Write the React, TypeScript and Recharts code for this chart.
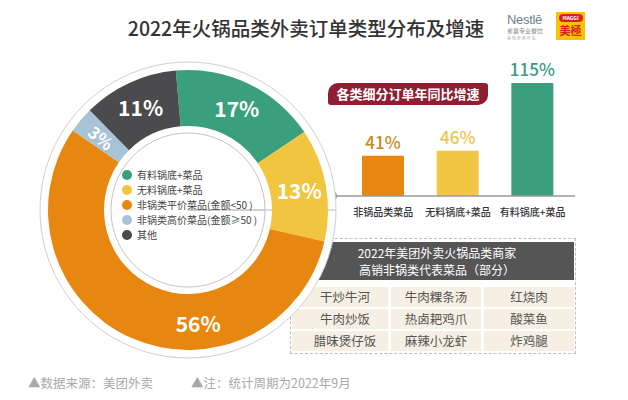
import React from 'react';
import { PieChart, Pie, Cell, BarChart, Bar, XAxis, YAxis, LabelList, Legend } from 'recharts';

const pieNames = ['有料锅底+菜品', '无料锅底+菜品', '非锅类平价菜品(金额<50 )', '非锅类高价菜品(金额≥50 )', '其他'];
const pieValues = [17, 13, 56, 3, 11];
const pieColors = ['#3a9f7c', '#f1c53f', '#e8870f', '#a8c3d6', '#4b4b4d'];

const barCategories = ['非锅品类菜品', '无料锅底+菜品', '有料锅底+菜品'];
const barValues = [41, 46, 115];
const barColors = ['#e8870f', '#f3c744', '#3a9f7c'];
const barLabelColors = ['#c98a1e', '#ebc650', '#3b9a7e'];

const dishRows = [
  ['干炒牛河', '牛肉粿条汤', '红烧肉'],
  ['牛肉炒饭', '热卤耙鸡爪', '酸菜鱼'],
  ['腊味煲仔饭', '麻辣小龙虾', '炸鸡腿'],
];

const titleText = '2022年火锅品类外卖订单类型分布及增速';
const bannerText = '各类细分订单年同比增速';
const tableHeader = ['2022年美团外卖火锅品类商家', '高销非锅类代表菜品（部分）'];
const footnotes = ['▲数据来源：美团外卖', '▲注：统计周期为2022年9月'];

const pieData = pieNames.map((name, i) => ({ name, value: pieValues[i] }));
const barData = barCategories.map((name, i) => ({ name, value: barValues[i] }));
const single = [{ name: 'bg', value: 1 }];

const FONT = '"Noto Sans CJK SC", "Noto Sans", sans-serif';
const RAD = Math.PI / 180;
// label angle adjustment for the largest slice (visual placement, not data)
const largestShift = 29;

const renderPieLabel = (props: any) => {
  const { cx, cy, midAngle, innerRadius, outerRadius, value, index } = props;
  const maxV = Math.max(...pieValues);
  const ang = pieValues[index] === maxV ? midAngle + largestShift : midAngle;
  const r = (innerRadius + outerRadius) / 2 + 1;
  const x = cx + r * Math.cos(-ang * RAD);
  const y = cy + r * Math.sin(-ang * RAD);
  const small = value < 5;
  return (
    <text
      x={x}
      y={y}
      fill="#fff"
      fontSize={small ? 17 : 21}
      fontWeight={600}
      fontFamily={FONT}
      textAnchor="middle"
      dominantBaseline="central"
      transform={small ? `rotate(${180 - ang} ${x} ${y})` : undefined}
    >
      {value}%
    </text>
  );
};

const PieLegend = () => (
  <div style={{ fontFamily: FONT, fontSize: 10, color: '#444' }}>
    {pieNames.map((n, i) => (
      <div key={n} style={{ display: 'flex', alignItems: 'center', height: 15, whiteSpace: 'nowrap' }}>
        <span
          style={{
            display: 'inline-block',
            width: 10,
            height: 10,
            borderRadius: 5,
            background: pieColors[i],
            marginRight: 5,
            flex: '0 0 10px',
          }}
        />
        <span>{n}</span>
      </div>
    ))}
  </div>
);

const BarTick = (props: any) => {
  const { x, y, payload } = props;
  return (
    <text x={x} y={y + 12} textAnchor="middle" fontSize={10} fill="#333" fontWeight={500} fontFamily={FONT}>
      {payload.value}
    </text>
  );
};

const BarLabel = (props: any) => {
  const { x, y, width, value, index } = props;
  return (
    <text
      x={x + width / 2}
      y={y - 7}
      textAnchor="middle"
      fontSize={17}
      fill={barLabelColors[index]}
      fontFamily={FONT}
      fontWeight={500}
    >
      {value}%
    </text>
  );
};

export default function App() {
  return (
    <div
      style={{
        position: 'fixed',
        left: 0,
        top: 0,
        width: 628,
        height: 400,
        background: '#fff',
        overflow: 'hidden',
        fontFamily: FONT,
      }}
    >
      {/* Title */}
      <div
        style={{
          position: 'absolute',
          left: 100,
          top: 14,
          width: 412,
          textAlign: 'center',
          fontSize: 19.5,
          fontWeight: 500,
          color: '#333',
          lineHeight: '28px',
          whiteSpace: 'nowrap',
        }}
      >
        {titleText}
      </div>

      {/* Logos */}
      <div style={{ position: 'absolute', left: 507, top: 13, width: 48, height: 28 }}>
        <div style={{ fontSize: 13, color: '#6f7f8f', fontFamily: 'Liberation Sans, sans-serif', lineHeight: '14px', letterSpacing: -0.3 }}>
          Nestlē
        </div>
        <div style={{ fontSize: 6, color: '#888', lineHeight: '8px', whiteSpace: 'nowrap' }}>雀巢专业餐饮</div>
        <div style={{ fontSize: 4, color: '#aaa', lineHeight: '6px', whiteSpace: 'nowrap' }}>美 味 营 养 可 靠</div>
      </div>
      <div
        style={{
          position: 'absolute',
          left: 556,
          top: 12,
          width: 29,
          height: 28,
          background: '#f6c400',
          textAlign: 'center',
        }}
      >
        <div
          style={{
            margin: '2px auto 0',
            width: 24,
            height: 8,
            borderRadius: 5,
            background: '#d8231f',
            color: '#fff',
            fontSize: 5,
            lineHeight: '8px',
            fontWeight: 700,
          }}
        >
          MAGGI
        </div>
        <div style={{ color: '#d8231f', fontSize: 11, fontWeight: 700, lineHeight: '16px' }}>美極</div>
      </div>

      {/* Banner */}
      <div
        style={{
          position: 'absolute',
          left: 328,
          top: 83,
          width: 160,
          height: 22,
          background: '#8e1f33',
          borderRadius: '10px 3px 10px 3px',
          color: '#fff',
          fontSize: 13,
          fontWeight: 700,
          lineHeight: '22px',
          textAlign: 'center',
          whiteSpace: 'nowrap',
        }}
      >
        {bannerText}
      </div>

      {/* Bar chart */}
      <div style={{ position: 'absolute', left: 300, top: 40 }}>
        <BarChart width={300} height={240} data={barData} margin={{ top: 38, right: 25, bottom: 54, left: 33 }}>
          <XAxis
            dataKey="name"
            padding={{ left: 13, right: 5 }}
            axisLine={{ stroke: '#9a9a9a', strokeWidth: 1.5 }}
            tickLine={false}
            tick={<BarTick />}
            interval={0}
            height={30}
          />
          <YAxis hide domain={[0, 120]} width={0} />
          <Bar dataKey="value" barSize={42} isAnimationActive={false}>
            {barData.map((d, i) => (
              <Cell key={d.name} fill={barColors[i]} />
            ))}
            <LabelList dataKey="value" content={<BarLabel />} />
          </Bar>
        </BarChart>
      </div>
      <div
        style={{
          position: 'absolute',
          left: 329,
          top: 192,
          width: 8,
          height: 8,
          borderRadius: 4,
          background: '#9a9a9a',
        }}
      />

      {/* Table */}
      <div
        style={{
          position: 'absolute',
          left: 290,
          top: 238,
          width: 286,
          height: 116,
          border: '1px dashed #bdbdbd',
          boxSizing: 'border-box',
        }}
      />
      <div
        style={{
          position: 'absolute',
          left: 292,
          top: 242,
          width: 282,
          height: 38,
          background: '#555555',
          color: '#fff',
          fontSize: 12,
          lineHeight: '17px',
          textAlign: 'center',
          paddingTop: 2,
          paddingLeft: 8,
          boxSizing: 'border-box',
        }}
      >
        <div>{tableHeader[0]}</div>
        <div>{tableHeader[1]}</div>
      </div>
      {dishRows.map((row, r) => (
        <div
          key={r}
          style={{ position: 'absolute', left: 292, top: 287 + r * 22, width: 282, height: 20, display: 'flex' }}
        >
          {row.map((c, j) => (
            <div
              key={c}
              style={{
                flex: j === 0 ? '0 0 96px' : '1 1 0',
                marginLeft: j === 0 ? 0 : 3,
                background: '#f6efe3',
                color: '#555',
                fontSize: 12.5,
                lineHeight: '20px',
                textAlign: 'center',
                paddingLeft: j === 0 ? 10 : 0,
                boxSizing: 'border-box',
              }}
            >
              {c}
            </div>
          ))}
        </div>
      ))}

      {/* Donut */}
      <div style={{ position: 'absolute', left: 0, top: 0 }}>
        <PieChart width={370} height={380}>
          <Pie
            data={single}
            dataKey="value"
            cx={183}
            cy={205}
            innerRadius={0}
            outerRadius={148}
            fill="#fff"
            stroke="#cfcfcf"
            strokeWidth={1}
            isAnimationActive={false}
          />
          <Pie
            data={pieData}
            dataKey="value"
            cx={183}
            cy={205}
            innerRadius={84}
            outerRadius={140}
            startAngle={95}
            endAngle={-265}
            stroke="none"
            label={renderPieLabel}
            labelLine={false}
            isAnimationActive={false}
          >
            {pieData.map((d, i) => (
              <Cell key={d.name} fill={pieColors[i]} />
            ))}
          </Pie>
          <Pie
            data={single}
            dataKey="value"
            cx={183}
            cy={205}
            innerRadius={0}
            outerRadius={77}
            fill="#fff"
            stroke="#c4c4c4"
            strokeWidth={1}
            isAnimationActive={false}
          />
          <Legend
            content={<PieLegend />}
            wrapperStyle={{ position: 'absolute', left: 122, top: 167, width: 170, height: 80 }}
          />
        </PieChart>
      </div>

      {/* Footnotes */}
      <div
        style={{
          position: 'absolute',
          left: 28,
          top: 374,
          fontSize: 12.5,
          color: '#a9a9a9',
          whiteSpace: 'nowrap',
          lineHeight: '18px',
        }}
      >
        {footnotes[0]}
      </div>
      <div
        style={{
          position: 'absolute',
          left: 191,
          top: 374,
          fontSize: 12.5,
          color: '#a9a9a9',
          whiteSpace: 'nowrap',
          lineHeight: '18px',
        }}
      >
        {footnotes[1]}
      </div>
    </div>
  );
}
